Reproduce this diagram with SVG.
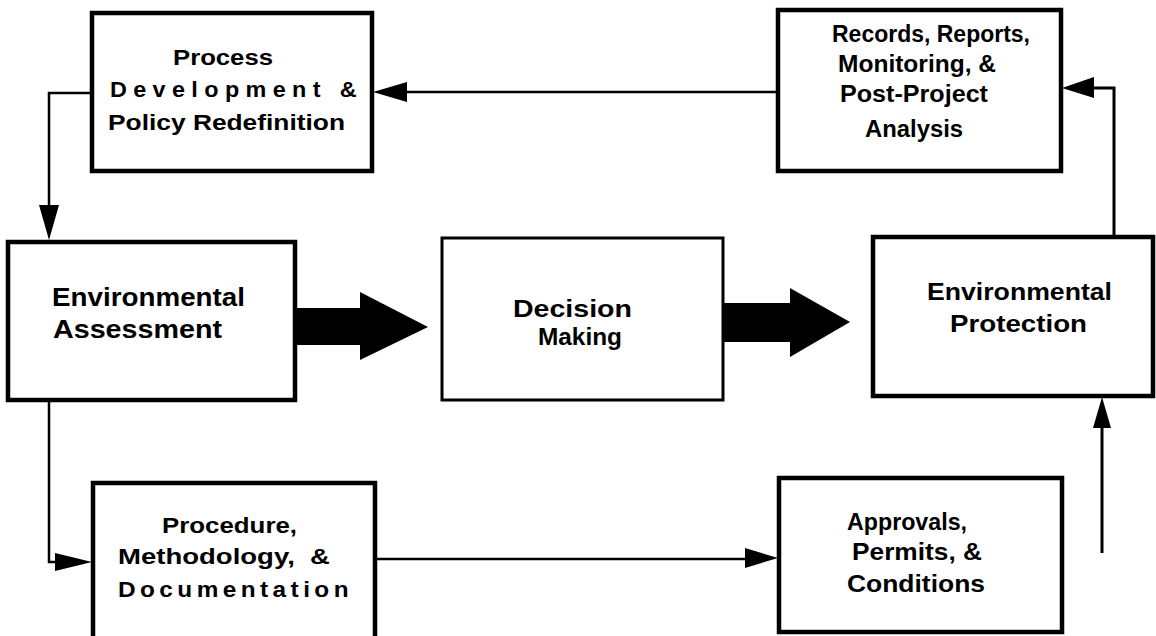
<svg xmlns="http://www.w3.org/2000/svg" width="1156" height="636" viewBox="0 0 1156 636">
<style>
.box{fill:#fff;stroke:#000;stroke-width:4.5}
.thin{stroke-width:3}
.t{font-family:"Liberation Sans",Arial,sans-serif;font-weight:bold;font-size:23px;fill:#000}
.ln{fill:none;stroke:#000;stroke-width:2.5}
.hd{fill:#000}
</style>
<rect width="1156" height="636" fill="#fff"/>
<g id="connectors">
  <polygon class="hd" points="295,308 360,308 360,292 428,327 360,360 360,345 295,345"/>
  <polygon class="hd" points="723,303 790,303 790,288 850,322 790,357 790,342 723,342"/>
  <line class="ln" x1="777" y1="92" x2="405" y2="92"/>
  <polygon class="hd" points="373,92 407,82 407,102"/>
  <polyline class="ln" points="92,93 49,93 49,207"/>
  <polygon class="hd" points="39,205 59,205 49,240"/>
  <polyline class="ln" points="49,400 49,562 57,562"/>
  <polygon class="hd" points="55,553 92,562 55,571"/>
  <line class="ln" x1="375" y1="559" x2="747" y2="559"/>
  <polygon class="hd" points="745,548 778,558 745,568"/>
  <line class="ln" x1="1102" y1="553" x2="1102" y2="426" style="stroke-width:3"/>
  <polygon class="hd" points="1093,428 1111,428 1102,397"/>
  <polyline class="ln" points="1114,237 1114,88 1092,88" style="stroke-width:3"/>
  <polygon class="hd" points="1062,88 1094,77 1094,98"/>
</g>
<g id="process-development">
  <rect class="box" x="92" y="13" width="280" height="158"/>
  <text class="t" x="173" y="65" textLength="100" lengthAdjust="spacingAndGlyphs" style="font-size:22px">Process</text>
  <text class="t" x="110" y="97" textLength="253" lengthAdjust="spacingAndGlyphs" style="font-size:22px;letter-spacing:6px">Development &amp;</text>
  <text class="t" x="108" y="130" textLength="237" lengthAdjust="spacingAndGlyphs" style="font-size:22px">Policy Redefinition</text>
</g>
<g id="records">
  <rect class="box" x="778" y="10" width="283" height="161"/>
  <text class="t" x="832" y="42" textLength="198" lengthAdjust="spacingAndGlyphs">Records, Reports,</text>
  <text class="t" x="838" y="72" textLength="158" lengthAdjust="spacingAndGlyphs">Monitoring, &amp;</text>
  <text class="t" x="840" y="102" textLength="148" lengthAdjust="spacingAndGlyphs">Post-Project</text>
  <text class="t" x="865" y="137" textLength="98" lengthAdjust="spacingAndGlyphs">Analysis</text>
</g>
<g id="environmental-assessment">
  <rect class="box" x="8" y="242" width="287" height="158"/>
  <text class="t" x="52" y="306" textLength="193" lengthAdjust="spacingAndGlyphs" style="font-size:25px">Environmental</text>
  <text class="t" x="53" y="338" textLength="169" lengthAdjust="spacingAndGlyphs" style="font-size:25px">Assessment</text>
</g>
<g id="decision-making">
  <rect class="box thin" x="442" y="238" width="281" height="162"/>
  <text class="t" x="513" y="317" textLength="119" lengthAdjust="spacingAndGlyphs">Decision</text>
  <text class="t" x="538" y="345" textLength="84" lengthAdjust="spacingAndGlyphs">Making</text>
</g>
<g id="environmental-protection">
  <rect class="box" x="873" y="237" width="280" height="159"/>
  <text class="t" x="927" y="300" textLength="185" lengthAdjust="spacingAndGlyphs">Environmental</text>
  <text class="t" x="950" y="332" textLength="137" lengthAdjust="spacingAndGlyphs">Protection</text>
</g>
<g id="procedure">
  <path class="box" d="M93,640 V483 H375 V640"/>
  <text class="t" x="162" y="533" textLength="135" lengthAdjust="spacingAndGlyphs" style="font-size:22px">Procedure,</text>
  <text class="t" x="118" y="564" textLength="212" lengthAdjust="spacingAndGlyphs" style="font-size:22px" xml:space="preserve">Methodology,  &amp;</text>
  <text class="t" x="118" y="597" textLength="235" lengthAdjust="spacingAndGlyphs" style="font-size:22px;letter-spacing:4px">Documentation</text>
</g>
<g id="approvals">
  <rect class="box" x="779" y="478" width="283" height="154"/>
  <text class="t" x="847" y="530" textLength="120" lengthAdjust="spacingAndGlyphs">Approvals,</text>
  <text class="t" x="852" y="560" textLength="130" lengthAdjust="spacingAndGlyphs">Permits, &amp;</text>
  <text class="t" x="847" y="592" textLength="138" lengthAdjust="spacingAndGlyphs">Conditions</text>
</g>
</svg>
